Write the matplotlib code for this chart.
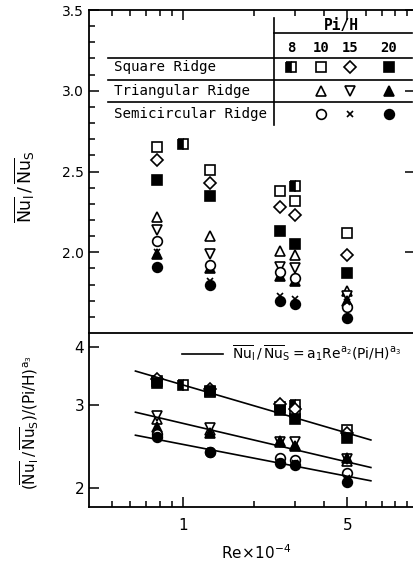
import matplotlib
matplotlib.use("Agg")
import matplotlib.pyplot as plt
from matplotlib.ticker import FixedLocator, NullFormatter, NullLocator

# Re x 10^-4 positions of the measured columns
re_all = [0.78, 1.3, 2.6, 3.0, 5.0]
re_pi8 = [1.0, 3.0]

# upper panel: Nu_l / Nu_S
sq8 = [2.67, 2.41]
sq10 = [2.65, 2.51, 2.38, 2.32, 2.12]
sq15 = [2.57, 2.43, 2.28, 2.23, 1.98]
sq20 = [2.45, 2.35, 2.13, 2.05, 1.87]
tri10 = [2.22, 2.10, 2.01, 1.98, 1.76]
tri15 = [2.14, 1.99, 1.91, 1.90, 1.73]
tri20 = [1.99, 1.90, 1.85, 1.82, 1.70]
semi10 = [2.07, 1.92, 1.88, 1.84, 1.66]
semi15 = [2.00, 1.82, 1.73, 1.71, 1.69]
semi20 = [1.91, 1.80, 1.70, 1.68, 1.59]

# lower panel: (Nu_l / Nu_S) / (Pi/H)^a3
n_sq8 = [3.32, 3.00]
n_sq10 = [3.38, 3.20, 2.97, 2.90, 2.66]
n_sq15 = [3.42, 3.25, 3.02, 2.95, 2.62]
n_sq20 = [3.35, 3.22, 2.93, 2.80, 2.55]
n_tri10 = [2.81, 2.66, 2.50, 2.47, 2.28]
n_tri15 = [2.84, 2.68, 2.50, 2.50, 2.30]
n_tri20 = [2.70, 2.62, 2.52, 2.46, 2.31]
n_semi10 = [2.60, 2.39, 2.31, 2.29, 2.15]
n_semi15 = [2.58, 2.40, 2.27, 2.26, 2.10]
n_semi20 = [2.57, 2.38, 2.26, 2.24, 2.06]

# correlation lines, end points
fit_re = [0.63, 6.3]
fit_sq = [3.55, 2.53]
fit_tri = [2.90, 2.21]
fit_semi = [2.59, 2.07]

pih_labels = ["8", "10", "15", "20"]
ridge_names = ["Square Ridge", "Triangular Ridge", "Semicircular Ridge"]

MS = 7
STY = {
    "sq8": dict(marker="s", mfc="black", mfcalt="white", fillstyle="left", mec="black", ms=MS),
    "sq10": dict(marker="s", mfc="white", mec="black", ms=MS),
    "sq15": dict(marker="D", mfc="white", mec="black", ms=MS - 0.5),
    "sq20": dict(marker="s", mfc="black", mec="black", ms=MS),
    "tri10": dict(marker="^", mfc="white", mec="black", ms=MS),
    "tri15": dict(marker="v", mfc="white", mec="black", ms=MS),
    "tri20": dict(marker="^", mfc="black", mec="black", ms=MS),
    "semi10": dict(marker="o", mfc="white", mec="black", ms=MS),
    "semi15": dict(marker="x", mec="black", ms=4.5),
    "semi20": dict(marker="o", mfc="black", mec="black", ms=MS),
}

W, H = 413, 569
fig = plt.figure(figsize=(W / 100, H / 100), dpi=100)


def px_box(left, top, right, bottom):
    return [left / W, 1 - bottom / H, (right - left) / W, (bottom - top) / H]


ax1 = fig.add_axes(px_box(89, 10, 415, 333))
ax2 = fig.add_axes(px_box(89, 333, 415, 507))

upper = [("sq8", re_pi8, sq8), ("sq10", re_all, sq10), ("sq15", re_all, sq15),
         ("sq20", re_all, sq20), ("tri10", re_all, tri10), ("tri15", re_all, tri15),
         ("tri20", re_all, tri20), ("semi10", re_all, semi10),
         ("semi15", re_all, semi15), ("semi20", re_all, semi20)]
lower = [("sq8", re_pi8, n_sq8), ("sq10", re_all, n_sq10), ("sq15", re_all, n_sq15),
         ("sq20", re_all, n_sq20), ("tri10", re_all, n_tri10), ("tri15", re_all, n_tri15),
         ("tri20", re_all, n_tri20), ("semi10", re_all, n_semi10),
         ("semi15", re_all, n_semi15), ("semi20", re_all, n_semi20)]

for key, xs, ys in upper:
    ax1.plot(xs, ys, ls="none", mew=1.2, **STY[key])
for key, xs, ys in lower:
    ax2.plot(xs, ys, ls="none", mew=1.2, **STY[key])
for ys in (fit_sq, fit_tri, fit_semi):
    ax2.plot(fit_re, ys, color="black", lw=1.2)

for ax in (ax1, ax2):
    ax.set_xscale("log")
    ax.set_xlim(0.4, 9.7)
    ax.xaxis.set_major_locator(FixedLocator([1, 5]))
    ax.xaxis.set_minor_locator(FixedLocator([0.5, 0.6, 0.7, 0.8, 0.9, 2, 3, 4, 6, 7, 8, 9]))
    ax.xaxis.set_minor_formatter(NullFormatter())
    ax.spines["right"].set_visible(False)
    for s in ("left", "bottom", "top"):
        ax.spines[s].set_linewidth(1.3)
    ax.tick_params(which="both", direction="in", width=1.1)
    ax.tick_params(which="major", length=7)
    ax.tick_params(which="minor", length=4)

# upper panel axes
ax1.set_ylim(1.5, 3.5)
ax1.yaxis.set_major_locator(FixedLocator([2.0, 2.5, 3.0, 3.5]))
ax1.yaxis.set_minor_locator(FixedLocator([1.6 + 0.1 * i for i in range(19)]))
ax1.set_yticklabels(["2.0", "2.5", "3.0", "3.5"])
ax1.tick_params(axis="x", which="both", top=True, bottom=False, labelbottom=False)
ax1.tick_params(axis="y", which="major", right=True, labelsize=10)
ax1.spines["bottom"].set_visible(False)

# lower panel axes
ax2.set_yscale("log")
ax2.set_ylim(1.82, 4.28)
ax2.yaxis.set_major_locator(FixedLocator([2, 3, 4]))
ax2.yaxis.set_minor_locator(NullLocator())
ax2.set_yticklabels(["2", "3", "4"])
ax2.set_xticklabels(["1", "5"])
ax2.tick_params(axis="both", which="major", labelsize=11)
ax2.tick_params(axis="x", pad=8)
ax2.spines["top"].set_visible(True)

# legend table in the upper panel
mono = "DejaVu Sans Mono"
tr = ax1.transAxes
kw = dict(transform=tr, color="black", lw=1.2, clip_on=False)
ax1.plot([0.568, 0.568], [0.644, 0.975], **kw)
ax1.plot([0.568, 0.99], [0.929, 0.929], **kw)
for yy in (0.851, 0.783, 0.715):
    ax1.plot([0.059, 0.99], [yy, yy], **kw)
ax1.text(0.775, 0.953, "Pi/H", transform=tr, ha="center", va="center",
         fontsize=10.5, family=mono, fontweight="bold")
col_x = [0.620, 0.713, 0.802, 0.920]
for cx, lab in zip(col_x, pih_labels):
    ax1.text(cx, 0.882, lab, transform=tr, ha="center", va="center",
             fontsize=10, family=mono, fontweight="bold")
row_y = [0.824, 0.749, 0.678]
for ry, name in zip(row_y, ridge_names):
    ax1.text(0.078, ry, name, transform=tr, ha="left", va="center",
             fontsize=10.2, family=mono)
table_keys = [["sq8", "sq10", "sq15", "sq20"],
              [None, "tri10", "tri15", "tri20"],
              [None, "semi10", "semi15", "semi20"]]
for ry, keys in zip(row_y, table_keys):
    for cx, key in zip(col_x, keys):
        if key:
            ax1.plot([cx], [ry], transform=tr, ls="none", mew=1.2, **STY[key])

# correlation legend in the lower panel
ax2.plot([0.284, 0.410], [0.879, 0.879], transform=ax2.transAxes, color="black", lw=1.2)
ax2.text(0.44, 0.885,
         r"$\overline{\mathrm{Nu}}_\mathrm{l}\,/\,\overline{\mathrm{Nu}}_\mathrm{S}"
         r"=\mathrm{a}_1\mathrm{Re}^{\mathrm{a}_2}(\mathrm{Pi/H})^{\mathrm{a}_3}$",
         transform=ax2.transAxes, ha="left", va="center", fontsize=10)

# axis labels
fig.text(25 / W, 1 - 187 / H,
         r"$\overline{\mathrm{Nu}}_\mathrm{l}\,/\,\overline{\mathrm{Nu}}_\mathrm{S}$",
         rotation=90, ha="center", va="center", fontsize=12.5)
fig.text(30 / W, 1 - 423 / H,
         r"$(\overline{\mathrm{Nu}}_\mathrm{l}\,/\,\overline{\mathrm{Nu}}_\mathrm{S})"
         r"/(\mathrm{Pi/H})^{\mathrm{a}_3}$",
         rotation=90, ha="center", va="center", fontsize=11)
fig.text(256 / W, 1 - 553 / H, r"$\mathrm{Re}\!\times\!10^{-4}$",
         ha="center", va="center", fontsize=11)

fig.savefig("out.png", dpi=100)
